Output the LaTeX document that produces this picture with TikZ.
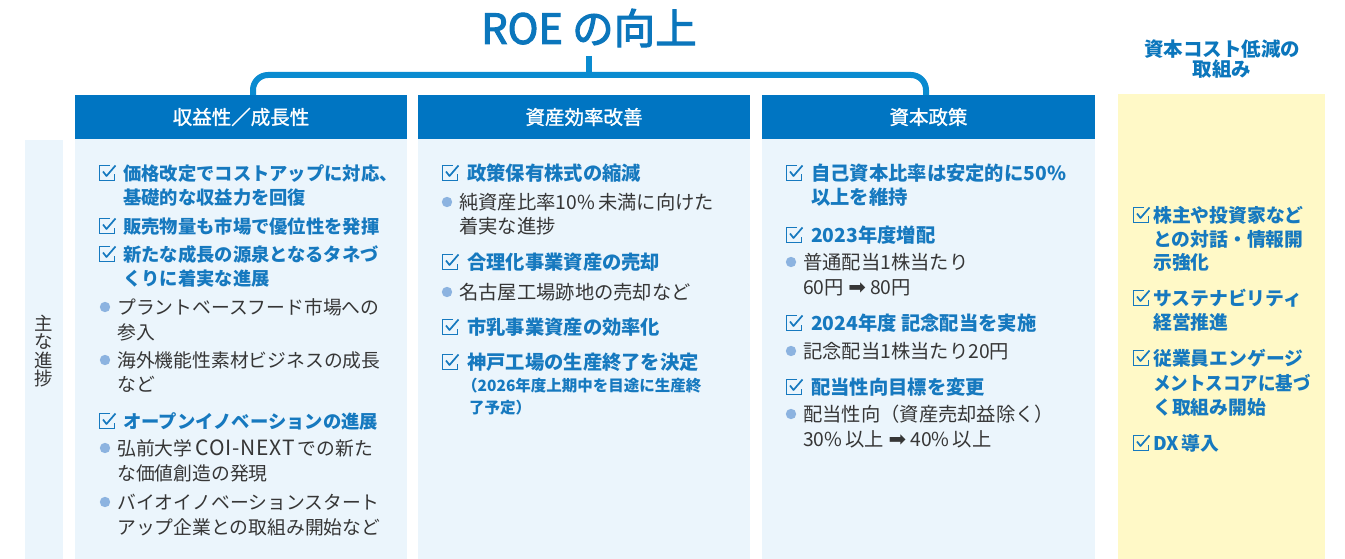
\documentclass[tikz,border=0pt]{standalone}
\usepackage{fontspec}
\setmainfont{Noto Sans CJK JP}
\newfontfamily\medfont[FakeBold=1.2]{Noto Sans CJK JP}
\newfontfamily\ttlfont[FakeBold=2.6]{Noto Sans CJK JP}
\newfontfamily\dvfont{DejaVu Sans}
\newcommand\fsz[1]{\fontsize{#1}{#1}\selectfont}
\definecolor{titleC}{HTML}{0B76BC}
\definecolor{hdrC}{HTML}{0075C2}
\definecolor{brkC}{HTML}{0A8BD0}
\definecolor{blueT}{HTML}{1679BF}
\definecolor{grayT}{HTML}{363636}
\definecolor{panelC}{HTML}{EBF5FC}
\definecolor{yelC}{HTML}{FFF9C7}
\definecolor{bulC}{HTML}{8CB3E0}
\begin{document}
\begin{tikzpicture}[x=1pt,y=-1pt,
  hdA/.style={font=\fsz{18.3}\bfseries, text=blueT, anchor=west, inner sep=0pt, text height=16pt, text depth=1.8pt},
  txA/.style={font=\fsz{18.8}, text=grayT, anchor=west, inner sep=0pt, text height=16pt, text depth=1.8pt},
  hdB/.style={font=\fsz{19.3}\bfseries, text=blueT, anchor=west, inner sep=0pt, text height=16pt, text depth=1.8pt},
  txB/.style={font=\fsz{19.3}, text=grayT, anchor=west, inner sep=0pt, text height=16pt, text depth=1.8pt},
  smB/.style={font=\fsz{15.5}\bfseries, text=blueT, anchor=west, inner sep=0pt, text height=13pt, text depth=1.2pt},
  hdR/.style={font=\fsz{18.8}\bfseries, text=blueT, anchor=west, inner sep=0pt, text height=16pt, text depth=1.8pt},
  hdrbox/.style={fill=hdrC, text=white, font=\medfont\fsz{19.5}, inner sep=0pt, minimum width=332pt, minimum height=44pt},
  chkbox/.pic={
    \draw[blueT, line width=1.5pt, line join=miter] (3,-7.5) -- (-7.5,-7.5) -- (-7.5,7.5) -- (7.5,7.5) -- (7.5,1.5);
    \draw[blueT, line width=1.7pt, line join=round] (-4,-1.5) -- (-0.5,3) -- (8.5,-7.5);
  },
  bul/.pic={\fill[bulC] (0,0) circle (5.2);}
]
\useasboundingbox (0,0) rectangle (1345,559);
\fill[white] (0,0) rectangle (1345,559);

% panels
\fill[panelC] (25,140) rectangle (63,559);
\fill[panelC] (75,139) rectangle (407,559);
\fill[panelC] (418,139) rectangle (750,559);
\fill[panelC] (762,139) rectangle (1095,559);
\fill[yelC] (1118,94) rectangle (1325,559);

% title and bracket
\node[font=\ttlfont\fsz{41.5}, text=titleC, inner sep=0pt] (title) at (589,28) {ROE の向上};
\node[hdrbox] (h1) at (241,117) {収益性／成長性};
\node[hdrbox] (h2) at (584,117) {資産効率改善};
\node[hdrbox, minimum width=333pt] (h3) at (928.5,117) {資本政策};
\coordinate (st) at (589,56);
\coordinate (sb) at (589,75);
\coordinate (l1) at (h1.north -| 253,0);
\coordinate (l3) at (h3.north -| 926,0);
\draw[brkC, line width=6pt, rounded corners=15pt] (l1) -- (253,75) -- (926,75) -- (l3);
\draw[brkC, line width=6pt] (st) -- (sb);

% side label
\node[font=\fsz{18.5}, text=grayT, align=center, inner sep=0pt] (side) at (44,351)
  {\fontsize{18.5}{20.5}\selectfont 主\\な\\進\\捗};

% right column title
\node[font=\fsz{19.5}\bfseries, text=titleC, align=center, inner sep=0pt] (rt) at (1222,59)
  {\fontsize{19.5}{28}\selectfont 資本コスト低減の\\取組み};

% column 1
\pic at (107,173) {chkbox}; \node[hdA] (a1) at (123,173) {価格改定でコストアップに対応、};
\node[hdA] (a2) at (123,197) {基礎的な収益力を回復};
\pic at (107,226) {chkbox}; \node[hdA] (a3) at (123,226) {販売物量も市場で優位性を発揮};
\pic at (107,254) {chkbox}; \node[hdA] (a4) at (123,254) {新たな成長の源泉となるタネづ};
\node[hdA] (a5) at (123,278) {くりに着実な進展};
\pic at (105,307) {bul}; \node[txA] (a6) at (117,307) {プラントベースフード市場への};
\node[txA] (a7) at (117,332) {参入};
\pic at (105,360) {bul}; \node[txA] (a8) at (117,360) {海外機能性素材ビジネスの成長};
\node[txA] (a9) at (117,384) {など};
\pic at (107,421) {chkbox}; \node[hdA] (a10) at (123,421) {オープンイノベーションの進展};
\pic at (105,448) {bul}; \node[txA] (a11) at (117,448) {弘前大学\,{\addfontfeature{LetterSpace=4}\fsz{21}COI-NEXT}\,での新た};
\node[txA] (a12) at (117,473) {な価値創造の発現};
\pic at (105,502) {bul}; \node[txA] (a13) at (117,502) {バイオイノベーションスタート};
\node[txA] (a14) at (117,527) {アップ企業との取組み開始など};

% column 2
\pic at (450,173) {chkbox}; \node[hdB] (b1) at (467,173) {政策保有株式の縮減};
\pic at (447,202) {bul}; \node[txB] (b2) at (459,202) {純資産比率10\%\,未満に向けた};
\node[txB] (b3) at (459,226) {着実な進捗};
\pic at (450,262) {chkbox}; \node[hdB] (b4) at (467,262) {合理化事業資産の売却};
\pic at (447,292) {bul}; \node[txB] (b5) at (459,292) {名古屋工場跡地の売却など};
\pic at (450,327) {chkbox}; \node[hdB] (b6) at (467,327) {市乳事業資産の効率化};
\pic at (450,362) {chkbox}; \node[hdB] (b7) at (467,362) {神戸工場の生産終了を決定};
\node[smB] (b8) at (462,386) {（2026年度上期中を目途に生産終};
\node[smB] (b9) at (469,408) {了予定）};

% column 3
\pic at (794,173) {chkbox}; \node[hdB] (c1) at (811,173) {自己資本比率は安定的に50\%};
\node[hdB] (c2) at (811,197) {以上を維持};
\pic at (794,235) {chkbox}; \node[hdB] (c3) at (811,235) {2023年度増配};
\pic at (791,262) {bul}; \node[txB] (c4) at (803,262) {普通配当1株当たり};
\node[txB] (c5) at (803,287) {60円 {\dvfont\fsz{21}➡} 80円};
\pic at (794,323) {chkbox}; \node[hdB] (c6) at (811,323) {2024年度 記念配当を実施};
\pic at (791,351) {bul}; \node[txB] (c7) at (803,351) {記念配当1株当たり20円};
\pic at (794,387) {chkbox}; \node[hdB] (c8) at (811,387) {配当性向目標を変更};
\pic at (791,414) {bul}; \node[txB] (c9) at (803,414) {配当性向（資産売却益除く）};
\node[txB] (c10) at (803,439) {30\%\,以上 {\dvfont\fsz{21}➡} 40\%\,以上};

% right column
\pic at (1141,215) {chkbox}; \node[hdR] (r1) at (1153,215) {株主や投資家など};
\node[hdR] (r2) at (1153,239) {との対話・情報開};
\node[hdR] (r3) at (1153,262) {示強化};
\pic at (1141,298) {chkbox}; \node[hdR] (r4) at (1153,298) {サステナビリティ};
\node[hdR] (r5) at (1153,322) {経営推進};
\pic at (1141,358) {chkbox}; \node[hdR] (r6) at (1153,358) {従業員エンゲージ};
\node[hdR] (r7) at (1153,383) {\scalebox{0.93}[1]{メントスコアに基づ}};
\node[hdR] (r8) at (1153,407) {く取組み開始};
\pic at (1141,443) {chkbox}; \node[hdR] (r9) at (1153,443) {DX\,導入};
\end{tikzpicture}
\end{document}
